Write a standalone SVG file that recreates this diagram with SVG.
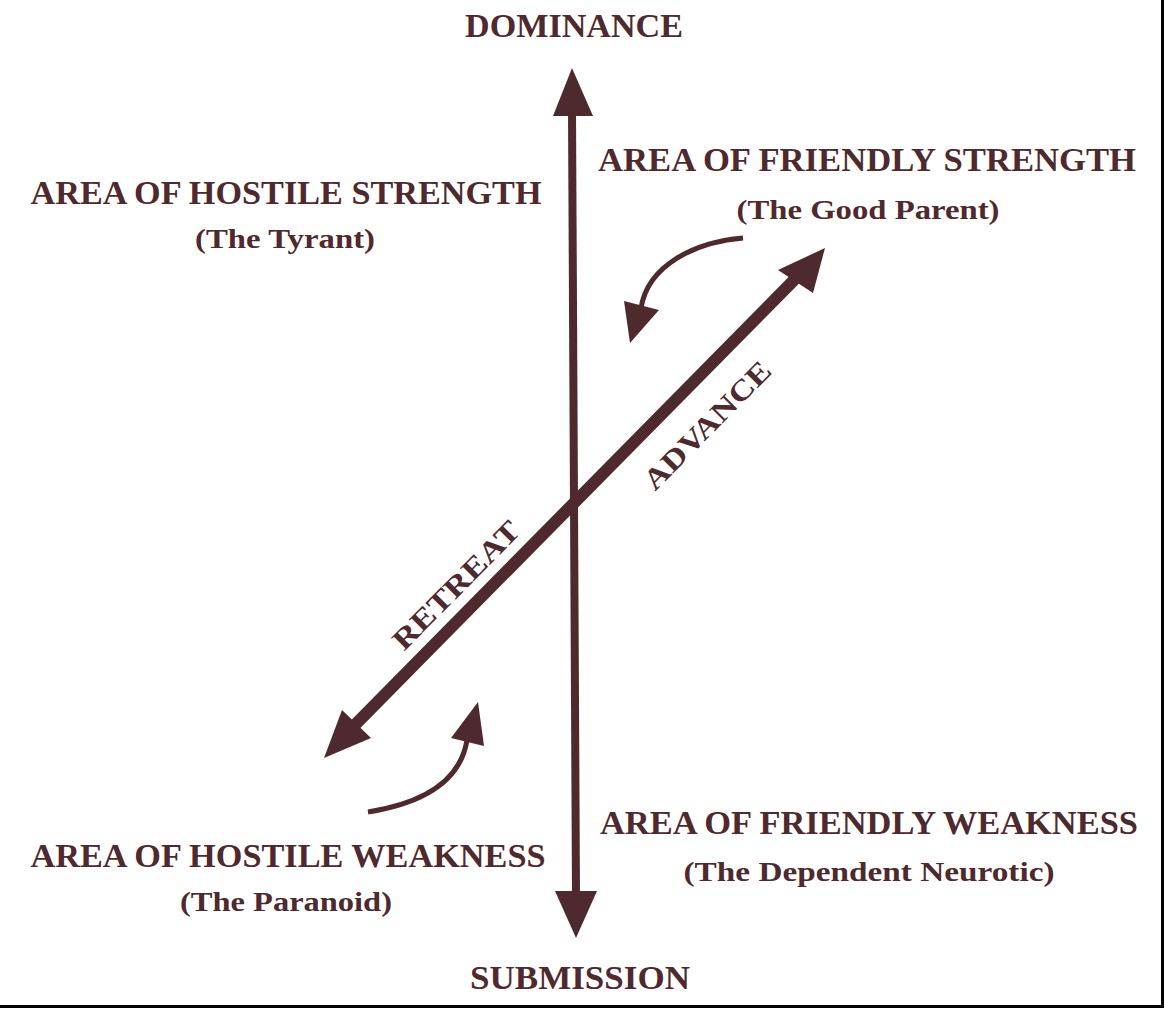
<svg xmlns="http://www.w3.org/2000/svg" width="1164" height="1010" viewBox="0 0 1164 1010">
<style>
.t{font-family:"Liberation Serif","Times New Roman",serif;font-weight:bold;fill:#4e2a2e;text-anchor:middle}
.h{font-size:33px}
.s{font-size:28px}
.d{font-size:29px}
.ln{stroke:#4e2a2e;fill:none}
.hd{fill:#4e2a2e}
</style>
<rect width="1164" height="1010" fill="#ffffff"/>
<g id="border">
<rect x="1161" y="0" width="3" height="1008" fill="#000"/>
<rect x="0" y="1005" width="1164" height="3" fill="#000"/>
</g>
<g id="connectors">
<line class="ln" x1="572" y1="110" x2="576" y2="898" stroke-width="8"/>
<polygon class="hd" points="572,68 553,116 593,116"/>
<polygon class="hd" points="576,938 555,891 597,891"/>
<line class="ln" x1="345" y1="735" x2="800" y2="274" stroke-width="12"/>
<polygon class="hd" points="825,248 778,270 813,293"/>
<polygon class="hd" points="324,758 342,710 371,738"/>
<path class="ln" d="M743,238 C695,242 648,265 641,308" stroke-width="5"/>
<polygon class="hd" points="630,343 624,301 659,310"/>
<path class="ln" d="M368,812 C418,804 460,784 467,740" stroke-width="5"/>
<polygon class="hd" points="478,702 451,738 484,746"/>
</g>
<g id="dominance"><text class="t h" x="574" y="37" textLength="218" lengthAdjust="spacingAndGlyphs">DOMINANCE</text></g>
<g id="submission"><text class="t h" x="580" y="989" textLength="220" lengthAdjust="spacingAndGlyphs">SUBMISSION</text></g>
<g id="hostile-strength">
<text class="t h" x="286" y="204" textLength="511" lengthAdjust="spacingAndGlyphs">AREA OF HOSTILE STRENGTH</text>
<text class="t s" x="285" y="248" textLength="180" lengthAdjust="spacingAndGlyphs">(The Tyrant)</text>
</g>
<g id="friendly-strength">
<text class="t h" x="867" y="171" textLength="538" lengthAdjust="spacingAndGlyphs">AREA OF FRIENDLY STRENGTH</text>
<text class="t s" x="868" y="219" textLength="263" lengthAdjust="spacingAndGlyphs">(The Good Parent)</text>
</g>
<g id="friendly-weakness">
<text class="t h" x="869" y="834" textLength="538" lengthAdjust="spacingAndGlyphs">AREA OF FRIENDLY WEAKNESS</text>
<text class="t s" x="869" y="881" textLength="371" lengthAdjust="spacingAndGlyphs">(The Dependent Neurotic)</text>
</g>
<g id="hostile-weakness">
<text class="t h" x="288" y="867" textLength="515" lengthAdjust="spacingAndGlyphs">AREA OF HOSTILE WEAKNESS</text>
<text class="t s" x="286" y="911" textLength="212" lengthAdjust="spacingAndGlyphs">(The Paranoid)</text>
</g>
<g id="advance"><text class="t d" transform="translate(714,432) rotate(-45.3)" x="0" y="0" textLength="168" lengthAdjust="spacingAndGlyphs">ADVANCE</text></g>
<g id="retreat"><text class="t d" transform="translate(463,592) rotate(-45.3)" x="0" y="0" textLength="168" lengthAdjust="spacingAndGlyphs">RETREAT</text></g>
</svg>
